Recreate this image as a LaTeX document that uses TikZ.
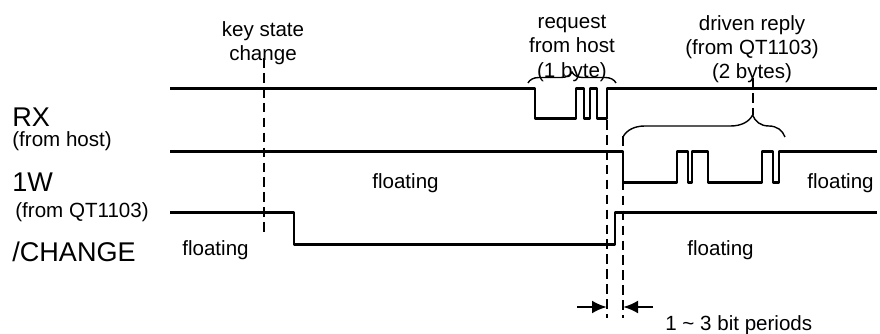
\documentclass[tikz,border=0pt]{standalone}
\usepackage{fontspec}
\setsansfont{Liberation Sans}
\usetikzlibrary{positioning,arrows.meta,decorations.pathreplacing}

\tikzset{
    wave/.style={line width=1.7pt, line join=round},
    guide/.style={line width=0.85pt, dash pattern=on 5.5pt off 3pt},
    bracket/.style={line width=0.8pt, decorate},
    gaparrow/.style={line width=1.5pt, -{Latex[length=3mm,width=2.6mm]}},
    lbl/.style={font=\sffamily\fontsize{11.7}{13.8}\selectfont, inner sep=0pt},
    siglbl/.style={font=\sffamily\fontsize{15.4}{18}\selectfont, inner sep=0pt, anchor=base west}
}

\begin{document}
\begin{tikzpicture}[font=\sffamily]
    \useasboundingbox (0,0) rectangle (17.6,6.68);

    % Signal names
    \node[siglbl] (rx) at (0.24,4.14) {RX};
    \node[lbl, anchor=base west] (rxsrc) at (0.24,3.74) {(from host)};
    \node[siglbl] (onew) at (0.24,2.84) {1W};
    \node[lbl, anchor=base west] (onewsrc) at (0.3,2.32) {(from QT1103)};
    \node[siglbl] (chg) at (0.24,1.44) {/CHANGE};

    % Waveforms
    \draw[wave] (3.4,4.9) -| (10.7,4.3) -| (11.52,4.9) -| (11.68,4.3) -| (11.8,4.9) -| (11.94,4.3) -| (12.14,4.9) -- (17.54,4.9);
    \draw[wave] (3.4,3.64) -| (12.46,3.02) -| (13.54,3.64) -| (13.76,3.02) -| (13.84,3.64) -| (14.16,3.02) -| (15.24,3.64) -| (15.46,3.02) -| (15.58,3.64) -- (17.54,3.64);
    \draw[wave] (3.4,2.42) -| (5.88,1.78) -| (12.3,2.42) -- (17.54,2.42);

    % Guide lines
    \draw[guide] (5.28,5.52) -- (5.28,2.04);
    \draw[guide] (12.14,4.28) -- (12.14,0.32);
    \draw[guide] (12.46,3.96) -- (12.46,0.32);
    \draw[guide] (15.06,5.12) -- (15.06,4.38);

    % Braces
    \draw[bracket, decoration={brace, amplitude=0.22cm}] (10.56,5.02) -- (12.32,5.02);
    \draw[bracket, decoration={brace, amplitude=0.44cm, aspect=0.8}] (12.46,3.94) -- (15.7,3.94);

    % Annotations
    \node[lbl, anchor=north, align=center] (keychg) at (5.26,6.25) {key state\\change};
    \node[lbl, anchor=north, align=center] (req) at (11.44,6.38) {request\\from host\\(1 byte)};
    \node[lbl, anchor=north, align=center] (reply) at (15.04,6.38) {driven reply\\(from QT1103)\\(2 bytes)};

    \node[lbl, anchor=base west] (flchgL) at (3.64,1.56) {floating};
    \node[lbl, anchor=base west] (flw) at (7.44,2.9) {floating};
    \node[lbl, anchor=base west] (flwR) at (16.14,2.9) {floating};
    \node[lbl, anchor=base west] (flchgR) at (13.74,1.56) {floating};

    % Delay arrows
    \coordinate (gapA) at (12.14,0.54);
    \coordinate (gapB) at (12.46,0.54);
    \draw[gaparrow] ([xshift=-0.6cm]gapA) -- (gapA);
    \draw[gaparrow] ([xshift=0.6cm]gapB) -- (gapB);
    \node[lbl, anchor=base west] (bits) at (13.3,0.06) {1 \textasciitilde{} 3 bit periods};

\end{tikzpicture}
\end{document}
